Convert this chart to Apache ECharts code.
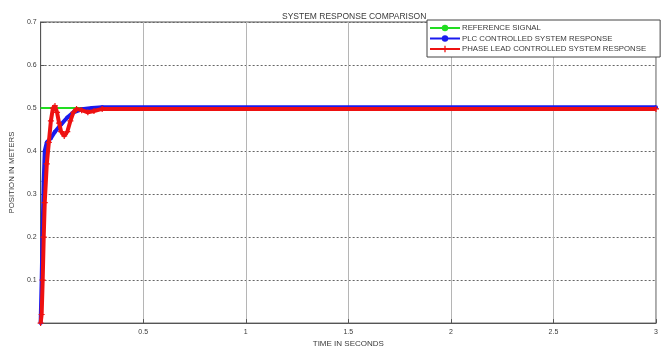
<!DOCTYPE html>
<html>
<head>
<meta charset="utf-8">
<script src="https://cdn.jsdelivr.net/npm/echarts@6/dist/echarts.min.js"></script>
<style>
  html, body { margin: 0; padding: 0; background: #fff; }
  #chart { width: 668px; height: 353px; }
</style>
</head>
<body>
<div id="chart"></div>
<script>
// Step input and the two controller responses (time in s, position in m)
const refTime  = [0, 3];
const refValue = [0.5, 0.5];

const plcTime  = [0, 0.005, 0.01, 0.015, 0.02, 0.03, 0.05, 0.07, 0.1, 0.13, 0.16, 0.2, 0.25, 0.3, 3];
const plcValue = [0, 0.10, 0.22, 0.33, 0.40, 0.42, 0.43, 0.445, 0.462, 0.478, 0.49, 0.497, 0.5, 0.502, 0.502];

const leadTime  = [0, 0.005, 0.01, 0.015, 0.02, 0.03, 0.04, 0.05, 0.06, 0.07, 0.08, 0.09, 0.1, 0.115, 0.13, 0.145, 0.16, 0.175, 0.2, 0.23, 0.26, 0.3, 3];
const leadValue = [0, 0.02, 0.1, 0.2, 0.28, 0.37, 0.42, 0.47, 0.5, 0.505, 0.49, 0.465, 0.445, 0.435, 0.445, 0.47, 0.49, 0.498, 0.495, 0.49, 0.493, 0.498, 0.498];

const xTicks = { min: 0, max: 3, interval: 0.5 };
const yTicks = { min: 0, max: 0.7, interval: 0.1 };

const seriesNames = [
  'REFERENCE SIGNAL',
  'PLC CONTROLLED SYSTEM RESPONSE',
  'PHASE LEAD CONTROLLED SYSTEM RESPONSE'
];

const pairs = (xs, ys) => xs.map((x, i) => [x, ys[i]]);

const FONT = 'Liberation Sans, Arial, sans-serif';
const TXT = '#3a3a3a';
const plusPath = 'path://M4,0 L6,0 L6,4 L10,4 L10,6 L6,6 L6,10 L4,10 L4,6 L0,6 L0,4 L4,4 Z';

const chart = echarts.init(document.getElementById('chart'), null, { renderer: 'canvas' });
chart.setOption({
  animation: false,
  backgroundColor: '#ffffff',
  title: {
    text: 'SYSTEM RESPONSE COMPARISON',
    left: 277, top: 7,
    textStyle: { fontFamily: FONT, fontSize: 8.5, fontWeight: 'normal', color: TXT }
  },
  grid: {
    left: 38, right: 12, top: 22, bottom: 23,
    show: true, borderColor: '#555', borderWidth: 1, backgroundColor: '#fff'
  },
  legend: {
    data: seriesNames,
    orient: 'vertical',
    left: 427, top: 20,
    itemWidth: 30, itemHeight: 8, itemGap: 2.5,
    padding: [4, 14, 4, 2],
    backgroundColor: '#fff',
    borderColor: '#444', borderWidth: 1,
    textStyle: { fontFamily: FONT, fontSize: 7.8, color: TXT, padding: [0, 0, 0, -3] }
  },
  xAxis: {
    type: 'value',
    min: xTicks.min, max: xTicks.max, interval: xTicks.interval,
    name: 'TIME IN SECONDS',
    nameLocation: 'middle', nameGap: 14,
    nameTextStyle: { fontFamily: FONT, fontSize: 8, color: TXT },
    axisLine: { show: true, onZero: false, lineStyle: { color: '#555' } },
    axisTick: { show: true, inside: true, length: 4, lineStyle: { color: '#555' } },
    axisLabel: {
      fontFamily: FONT, fontSize: 7, color: TXT, margin: 5,
      formatter: v => (v === 0 ? '' : String(v))
    },
    splitLine: { show: true, lineStyle: { color: '#b5b5b5', width: 1, type: 'solid' } }
  },
  yAxis: {
    type: 'value',
    min: yTicks.min, max: yTicks.max, interval: yTicks.interval,
    name: 'POSITION IN METERS',
    nameLocation: 'middle', nameGap: 21, nameRotate: 90,
    nameTextStyle: { fontFamily: FONT, fontSize: 7.8, color: TXT },
    axisLine: { show: true, lineStyle: { color: '#555' } },
    axisTick: { show: true, inside: true, length: 4, lineStyle: { color: '#555' } },
    axisLabel: {
      fontFamily: FONT, fontSize: 7, color: TXT, margin: 4,
      formatter: v => (v === 0 ? '' : v.toFixed(1))
    },
    splitLine: { show: true, lineStyle: { color: '#666', width: 1, type: [2, 2] } }
  },
  series: [
    {
      name: seriesNames[0], type: 'line',
      data: pairs(refTime, refValue),
      showSymbol: false, symbol: 'none',
      lineStyle: { color: '#22dd22', width: 2 },
      itemStyle: { color: '#22dd22' },
      z: 2
    },
    {
      name: seriesNames[1], type: 'line',
      data: pairs(plcTime, plcValue),
      symbol: 'circle', symbolSize: 4, showAllSymbol: true,
      lineStyle: { color: '#1a1aee', width: 4 },
      itemStyle: { color: '#1a1aee' },
      z: 3
    },
    {
      name: seriesNames[2], type: 'line',
      data: pairs(leadTime, leadValue),
      symbol: plusPath, symbolSize: 6, showAllSymbol: true,
      lineStyle: { color: '#ee1111', width: 4 },
      itemStyle: { color: '#ee1111' },
      z: 4
    }
  ]
});
</script>
</body>
</html>
